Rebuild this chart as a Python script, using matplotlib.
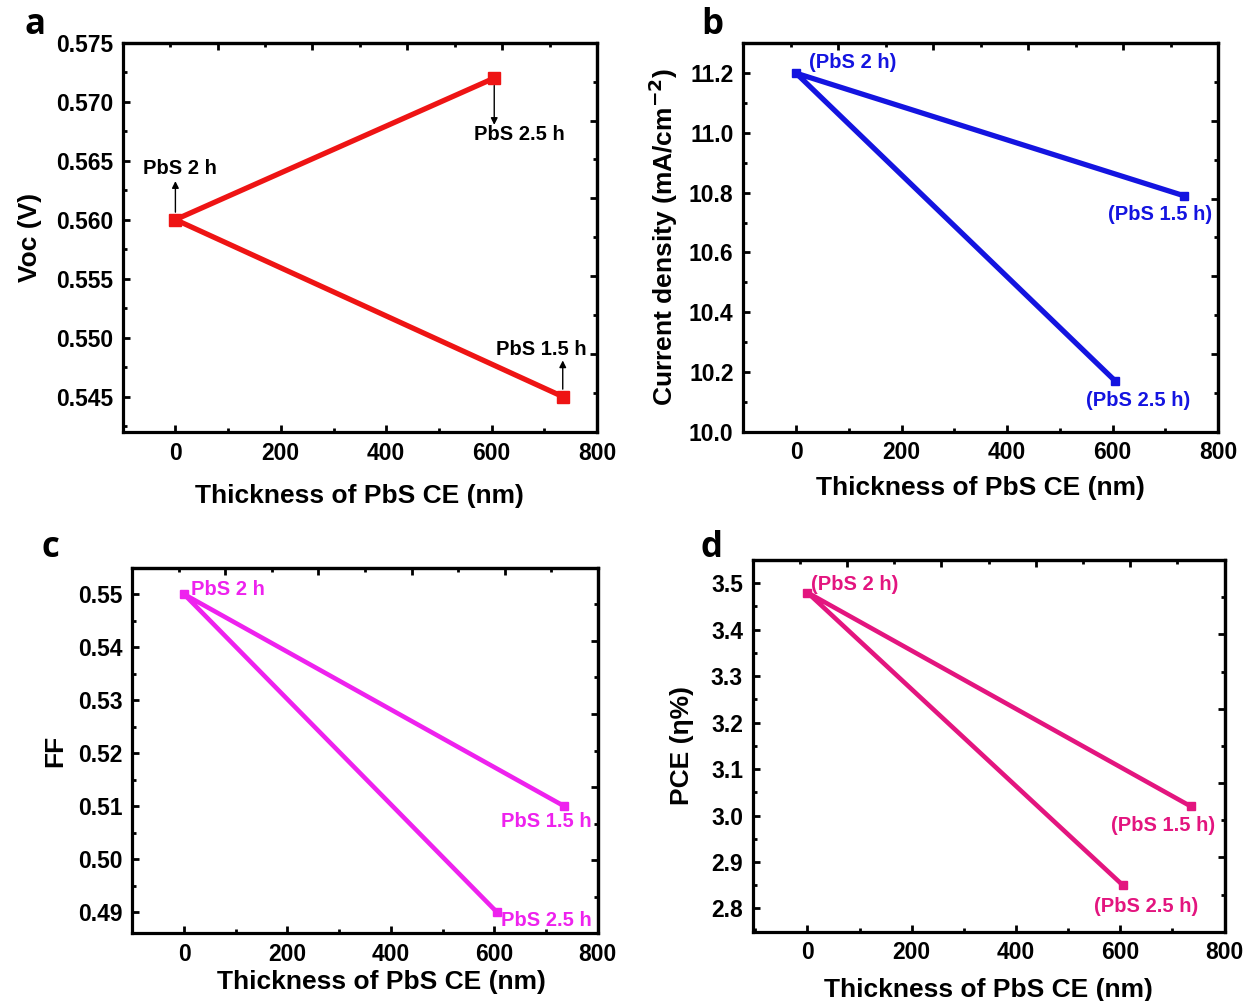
import matplotlib
matplotlib.use("Agg")
import matplotlib.pyplot as plt
from matplotlib.ticker import MultipleLocator, NullFormatter

plt.rcParams['font.family'] = ['Liberation Sans', 'DejaVu Sans']
plt.rcParams['font.weight'] = 'bold'
plt.rcParams['mathtext.default'] = 'bf'

# ---- data (order: PbS 1.5 h, PbS 2 h, PbS 2.5 h) ----
samples = ["PbS 1.5 h", "PbS 2 h", "PbS 2.5 h"]
thickness_nm = [735, 0, 605]
voc = [0.545, 0.560, 0.572]
jsc = [10.79, 11.20, 10.17]
ff = [0.51, 0.55, 0.49]
pce = [3.02, 3.48, 2.85]

xlabel = "Thickness of PbS CE (nm)"
x_ticks = [0, 200, 400, 600, 800]

W, H = 1251, 1001
fig = plt.figure(figsize=(W / 100, H / 100), dpi=100)

TICK_FS = 16.5
LABEL_FS = 19
ANN_FS = 14.5


def box(l, t, r, b):
    return [l / W, 1 - b / H, (r - l) / W, (b - t) / H]


def style(ax, xlim, ylim, ymajor, yminor, yfmt):
    ax.set_xlim(*xlim)
    ax.set_ylim(*ylim)
    ax.set_xticks(x_ticks)
    ax.xaxis.set_minor_locator(MultipleLocator(100))
    ax.yaxis.set_major_locator(MultipleLocator(ymajor))
    ax.yaxis.set_minor_locator(MultipleLocator(yminor))
    ax.yaxis.set_major_formatter(plt.FormatStrFormatter(yfmt))
    for s in ax.spines.values():
        s.set_linewidth(2.3)
    ax.tick_params(which='major', direction='in', length=5, width=2, labelsize=TICK_FS, pad=7)
    ax.tick_params(which='minor', direction='in', length=3, width=2)
    for lab in ax.get_xticklabels() + ax.get_yticklabels():
        lab.set_fontweight('bold')
    # top / right axes: ten equal divisions
    f = lambda v, lo=xlim[0], hi=xlim[1]: (v - lo) / (hi - lo) * 10
    fi = lambda u, lo=xlim[0], hi=xlim[1]: lo + u / 10 * (hi - lo)
    top = ax.secondary_xaxis('top', functions=(f, fi))
    g = lambda v, lo=ylim[0], hi=ylim[1]: (v - lo) / (hi - lo) * 10
    gi = lambda u, lo=ylim[0], hi=ylim[1]: lo + u / 10 * (hi - lo)
    right = ax.secondary_yaxis('right', functions=(g, gi))
    for sec in (top, right):
        sec.set_ticks([2, 4, 6, 8])
        sec.set_ticks([1, 3, 5, 7, 9], minor=True)
        sec.tick_params(which='major', direction='in', length=5, width=2,
                        labeltop=False, labelright=False)
        sec.tick_params(which='minor', direction='in', length=3, width=2)
        for s in sec.spines.values():
            s.set_linewidth(2.3)
    top.xaxis.set_major_formatter(NullFormatter())
    right.yaxis.set_major_formatter(NullFormatter())


# ---------------- a ----------------
ax = fig.add_axes(box(122.7, 42.7, 597, 432))
c_a = '#ee1414'
ax.plot(thickness_nm, voc, '-s', color=c_a, lw=3.8, ms=8)
style(ax, (-100, 800), (0.542, 0.575), 0.005, 0.0025, '%.3f')
ax.set_xlabel(xlabel, fontsize=LABEL_FS, fontweight='bold')
ax.set_ylabel("Voc (V)", fontsize=LABEL_FS, fontweight='bold')
ax.xaxis.set_label_coords(0.5, -0.134)
ax.yaxis.set_label_coords(-0.171, 0.5)
arr = dict(arrowstyle='-|>', color='black', lw=1.0, mutation_scale=10)
ax.annotate("", xy=(thickness_nm[1], 0.5635), xytext=(thickness_nm[1], voc[1] + 0.0004), arrowprops=arr)
ax.text(8, 0.5643, samples[1], fontsize=ANN_FS, fontweight='bold', ha='center', va='center')
ax.annotate("", xy=(thickness_nm[2], 0.5678), xytext=(thickness_nm[2], voc[2] - 0.0004), arrowprops=arr)
ax.text(652, 0.5672, samples[2], fontsize=ANN_FS, fontweight='bold', ha='center', va='center')
ax.annotate("", xy=(thickness_nm[0], 0.5483), xytext=(thickness_nm[0], voc[0] + 0.0004), arrowprops=arr)
ax.text(694, 0.5490, samples[0], fontsize=ANN_FS, fontweight='bold', ha='center', va='center')

# ---------------- b ----------------
ax = fig.add_axes(box(743.3, 43.3, 1218, 431.7))
c_b = '#1414e0'
ax.plot(thickness_nm, jsc, '-s', color=c_b, lw=3.8, ms=6)
style(ax, (-100, 800), (10.0, 11.3), 0.2, 0.1, '%.1f')
ax.set_xlabel(xlabel, fontsize=LABEL_FS, fontweight='bold')
ax.set_ylabel("Current density (mA/cm$^{-2}$)", fontsize=LABEL_FS, fontweight='bold')
ax.xaxis.set_label_coords(0.5, -0.114)
ax.yaxis.set_label_coords(-0.134, 0.5)
ax.text(24, 11.236, "(" + samples[1] + ")", color=c_b, fontsize=ANN_FS, fontweight='bold', ha='left', va='center')
ax.text(690, 10.726, "(" + samples[0] + ")", color=c_b, fontsize=ANN_FS, fontweight='bold', ha='center', va='center')
ax.text(649, 10.106, "(" + samples[2] + ")", color=c_b, fontsize=ANN_FS, fontweight='bold', ha='center', va='center')

# ---------------- c ----------------
ax = fig.add_axes(box(132.3, 567.7, 597.7, 933.3))
c_c = '#ee22ee'
ax.plot(thickness_nm, ff, '-s', color=c_c, lw=3.3, ms=6)
style(ax, (-100, 800), (0.486, 0.555), 0.01, 0.005, '%.2f')
ax.set_xlabel(xlabel, fontsize=LABEL_FS, fontweight='bold')
ax.set_ylabel("FF", fontsize=LABEL_FS, fontweight='bold')
ax.xaxis.set_label_coords(0.535, -0.101)
ax.yaxis.set_label_coords(-0.139, 0.5)
ax.text(13, 0.5508, samples[1], color=c_c, fontsize=ANN_FS, fontweight='bold', ha='left', va='center')
ax.text(700, 0.5071, samples[0], color=c_c, fontsize=ANN_FS, fontweight='bold', ha='center', va='center')
ax.text(700, 0.4884, samples[2], color=c_c, fontsize=ANN_FS, fontweight='bold', ha='center', va='center')

# ---------------- d ----------------
ax = fig.add_axes(box(752.7, 560, 1224.5, 931.7))
c_d = '#e3157f'
ax.plot(thickness_nm, pce, '-s', color=c_d, lw=3.3, ms=6)
style(ax, (-105, 800), (2.75, 3.55), 0.1, 0.05, '%.1f')
ax.set_xlabel(xlabel, fontsize=LABEL_FS, fontweight='bold')
ax.set_ylabel("PCE (η%)", fontsize=LABEL_FS, fontweight='bold')
ax.xaxis.set_label_coords(0.5, -0.124)
ax.yaxis.set_label_coords(-0.125, 0.5)
ax.text(6, 3.497, "(" + samples[1] + ")", color=c_d, fontsize=ANN_FS, fontweight='bold', ha='left', va='center')
ax.text(683, 2.978, "(" + samples[0] + ")", color=c_d, fontsize=ANN_FS, fontweight='bold', ha='center', va='center')
ax.text(649, 2.804, "(" + samples[2] + ")", color=c_d, fontsize=ANN_FS, fontweight='bold', ha='center', va='center')

# panel letters
for lbl, (px, py) in zip("abcd", [(35, 25), (712, 25), (50, 548), (712, 548)]):
    fig.text(px / W, 1 - py / H, lbl, fontsize=25, fontweight='bold',
             family=['Open Sans', 'DejaVu Sans'], ha='center', va='center')

fig.savefig("out.png", dpi=100)
